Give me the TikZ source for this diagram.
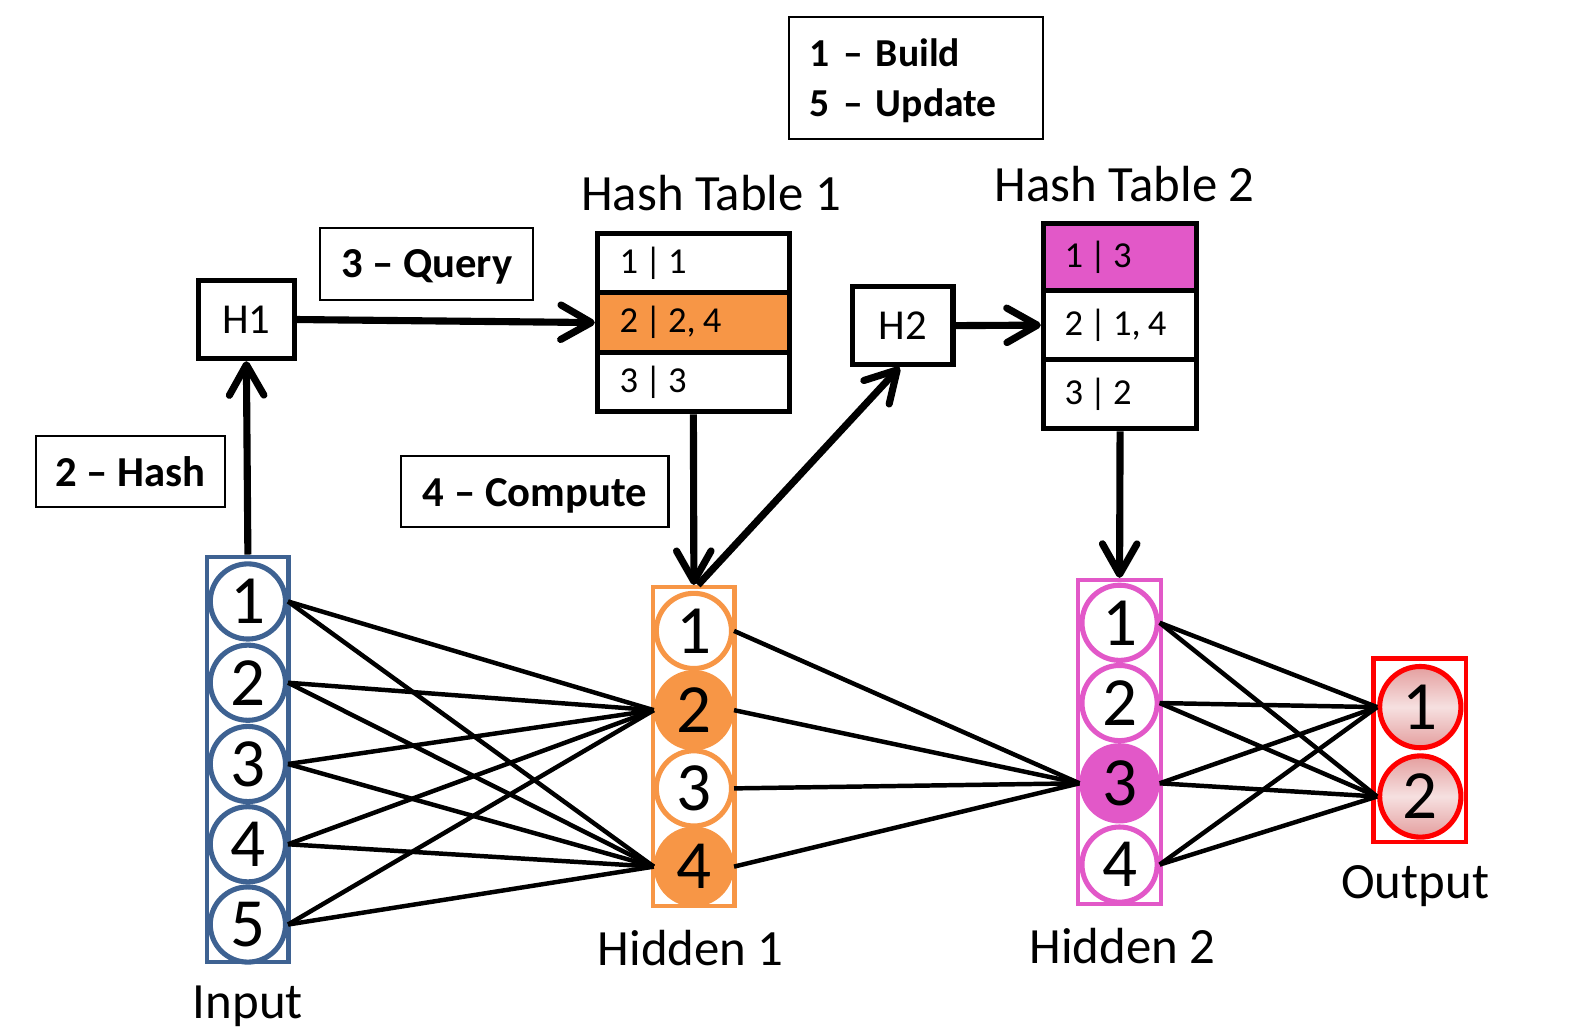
\documentclass[tikz,border=0pt]{standalone}
\usepackage{fontspec}
\setmainfont{Carlito}
\usetikzlibrary{arrows.meta}
\definecolor{inblue}{RGB}{62,98,146}
\definecolor{hor}{RGB}{247,150,70}
\definecolor{hmag}{RGB}{226,88,200}
\definecolor{outred}{RGB}{255,0,0}
\definecolor{pinkdark}{RGB}{228,158,158}
\definecolor{pinklight}{RGB}{246,224,224}
\newcommand\hsep{\kern3.2pt|\kern3.2pt}
\newcommand\csp{,\kern3.5pt}
\begin{document}
\begin{tikzpicture}[x=0.5pt,y=-0.5pt,
  neuron/.style={circle, minimum size=37pt, inner sep=0pt, line width=2.5pt, font=\fontsize{34}{40}\selectfont},
  colbox/.style={rectangle, inner sep=0pt, line width=2.2pt},
  conn/.style={line width=2.2pt, black},
  bigarrow/.style={line width=3.5pt, -{Straight Barb[length=15pt,width=17pt,line cap=round,line join=round]}},
  legend/.style={draw, line width=1pt, inner sep=0pt, font=\fontsize{21}{25}\selectfont\bfseries},
  hbox/.style={draw, line width=2.5pt, inner sep=0pt, font=\fontsize{21}{25}\selectfont},
  htrow/.style={draw, line width=2.5pt, inner ysep=0pt, align=left, font=\fontsize{18}{22}\selectfont},
  title/.style={font=\fontsize{25}{30}\selectfont, inner sep=0pt},
]
\useasboundingbox (0,0) rectangle (1568,1014);

% legend boxes
\node[legend, font=\fontsize{19.5}{24}\selectfont\bfseries, minimum width=125pt, minimum height=60pt, text width=105pt, inner xsep=10pt, align=left] (lg) at (902,77)
  {\rule{0pt}{16pt}1 -- Build\\[0.6pt]5 -- Update};
\node[legend, minimum width=105pt, minimum height=35.5pt, text height=17pt, text depth=3.5pt] (lq) at (420,259.5) {3 -- Query};
\node[legend, minimum width=93pt, minimum height=35pt, text height=14.5pt, text depth=0pt] (lh) at (128,464) {2 -- Hash};
\node[legend, minimum width=131.5pt, minimum height=35pt, text height=18.5pt, text depth=4pt] (lc) at (526.5,484) {4 -- Compute};

% titles
\node[title] (t1) at (700,190) {Hash Table 1};
\node[title] (t2) at (1107,181) {Hash Table 2};

% hash table 1
\node[htrow, minimum width=94.5pt, minimum height=29.25pt, text width=72.5pt, inner xsep=11pt] (r11) at (682.5,259) {1\hsep 1};
\node[htrow, fill=hor, minimum width=94.5pt, minimum height=29.25pt, text width=72.5pt, inner xsep=11pt] (r12) at (682.5,317.5) {2\hsep 2\csp 4};
\node[htrow, minimum width=94.5pt, minimum height=29.25pt, text width=72.5pt, inner xsep=11pt] (r13) at (682.5,376) {3\hsep 3};

% hash table 2
\node[htrow, fill=hmag, minimum width=75.5pt, minimum height=33pt, text width=54.5pt, inner xsep=10.5pt] (r21) at (1102.5,253) {1\hsep 3};
\node[htrow, minimum width=75.5pt, minimum height=34pt, text width=54.5pt, inner xsep=10.5pt] (r22) at (1102.5,320) {2\hsep 1\csp 4};
\node[htrow, minimum width=75.5pt, minimum height=34pt, text width=54.5pt, inner xsep=10.5pt] (r23) at (1102.5,388) {3\hsep 2};

% hash function boxes
\node[hbox, minimum width=47.5pt, minimum height=38.5pt] (H1) at (242.5,314.5) {H1};
\node[hbox, minimum width=49.5pt, minimum height=38.5pt] (H2) at (888.5,320.5) {H2};

% layer columns
\node[colbox, draw=inblue, minimum width=40pt, minimum height=199.5pt] (incol) at (244,747.5) {};
\node[colbox, draw=hor, minimum width=40pt, minimum height=157pt] (acol) at (683,735) {};
\node[colbox, draw=hmag, minimum width=41pt, minimum height=159.5pt] (bcol) at (1102,730.5) {};
\node[colbox, draw=outred, minimum width=45.5pt, minimum height=90.5pt] (ocol) at (1397.5,738.5) {};

% input neurons
\node[neuron, draw=inblue, fill=white] (i1) at (244,592) {1};
\node[neuron, draw=inblue, fill=white] (i2) at (244,672) {2};
\node[neuron, draw=inblue, fill=white] (i3) at (244,752) {3};
\node[neuron, draw=inblue, fill=white] (i4) at (244,831) {4};
\node[neuron, draw=inblue, fill=white] (i5) at (244,910) {5};

% hidden 1
\node[neuron, draw=hor, fill=white] (a1) at (683,621) {1};
\node[neuron, draw=hor, fill=hor] (a2) at (683,699) {2};
\node[neuron, draw=hor, fill=white] (a3) at (683,776) {3};
\node[neuron, draw=hor, fill=hor] (a4) at (683,853) {4};

% hidden 2
\node[neuron, draw=hmag, fill=white] (b1) at (1102,613) {1};
\node[neuron, draw=hmag, fill=white] (b2) at (1102,692) {2};
\node[neuron, draw=hmag, fill=hmag] (b3) at (1102,771) {3};
\node[neuron, draw=hmag, fill=white] (b4) at (1102,851) {4};

% output
\node[neuron, draw=outred, minimum size=40pt, top color=pinkdark, bottom color=pinkdark, middle color=pinklight] (o1) at (1398,696) {1};
\node[neuron, draw=outred, minimum size=40pt, top color=pinkdark, bottom color=pinkdark, middle color=pinklight] (o2) at (1398,784) {2};

% layer labels
\node[title] (lin) at (244,990) {Input};
\node[title] (lh1) at (680,933) {Hidden 1};
\node[title] (lh2) at (1105,931) {Hidden 2};
\node[title] (lout) at (1393,872) {Output};

% connections input -> hidden 1
\foreach \s in {i1,i2,i3,i4,i5}{
  \draw[conn] (\s.east) -- (a2.west);
  \draw[conn] (\s.east) -- (a4.west);
}
% hidden 1 -> hidden 2
\foreach \s in {a1,a2,a3,a4}{
  \draw[conn] (\s.east) -- (b3.west);
}
% hidden 2 -> output
\foreach \s in {b1,b2,b3,b4}{
  \draw[conn] (\s.east) -- (o1.west);
  \draw[conn] (\s.east) -- (o2.west);
}

% arrows
\draw[bigarrow] (incol.north) -- (H1.south);
\draw[bigarrow] (H1.east) -- (r12.west);
\draw[bigarrow] (r13.south) -- (acol.north);
\draw[bigarrow] ([xshift=2pt]acol.north) -- ([xshift=-1.5pt]H2.south);
\draw[bigarrow] (H2.east) -- (r22.west);
\draw[bigarrow] (r23.south) -- (bcol.north);
\end{tikzpicture}
\end{document}
